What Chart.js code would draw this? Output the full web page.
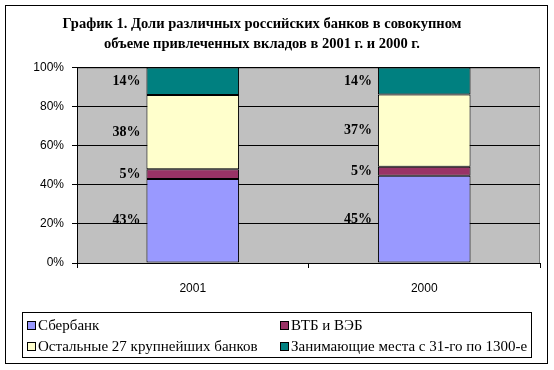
<!DOCTYPE html>
<html>
<head>
<meta charset="utf-8">
<script src="https://cdn.jsdelivr.net/npm/chart.js@4"></script>
<style>
  html, body { margin: 0; padding: 0; background: #fff; }
  #wrap { width: 554px; height: 370px; }
</style>
</head>
<body>
<div id="wrap"><canvas id="myChart" width="554" height="370"></canvas></div>
<script>
// данные с графика
var years = ["2001", "2000"];
var sberbank = [43, 44.6];
var vtbVeb = [5, 4.6];
var top27 = [38, 37];
var rest = [14, 13.8];
var yTicks = [0, 20, 40, 60, 80, 100];
var seriesNames = ["Сбербанк", "ВТБ и ВЭБ", "Остальные 27 крупнейших банков", "Занимающие места с 31-го по 1300-е"];
var titleLines = ["График 1. Доли различных российских банков в совокупном", "объеме привлеченных вкладов в 2001 г. и 2000 г."];

var colors = ["#9999FF", "#993366", "#FFFFCC", "#008080"];
var serif = "'Liberation Serif', 'Times New Roman', serif";
var sans = "'Liberation Sans', Arial, sans-serif";

// фон, рамка и серая область построения
var backdrop = {
  id: "backdrop",
  afterLayout: function(chart) {
    // заголовок в оригинале чуть левее центра
    if (chart.titleBlock) {
      chart.titleBlock.left -= 13;
      chart.titleBlock.right -= 13;
    }
  },
  beforeDraw: function(chart) {
    var ctx = chart.ctx, a = chart.chartArea;
    ctx.save();
    ctx.fillStyle = "#fff";
    ctx.fillRect(0, 0, chart.width, chart.height);
    ctx.strokeStyle = "#000";
    ctx.lineWidth = 1;
    ctx.strokeRect(5.5, 5.5, chart.width - 12, chart.height - 12);
    ctx.fillStyle = "#C0C0C0";
    ctx.fillRect(a.left, a.top, a.right - a.left, a.bottom - a.top);
    ctx.strokeStyle = "#808080";
    ctx.strokeRect(a.left + 0.5, a.top + 0.5, a.right - a.left - 1, a.bottom - a.top);
    ctx.restore();
  }
};

// подписи значений слева от столбцов
var valueLabels = {
  id: "valueLabels",
  afterDatasetsDraw: function(chart) {
    var ctx = chart.ctx;
    ctx.save();
    ctx.font = "bold 14px " + serif;
    ctx.fillStyle = "#000";
    ctx.textAlign = "right";
    ctx.textBaseline = "middle";
    chart.data.datasets.forEach(function(ds, i) {
      chart.getDatasetMeta(i).data.forEach(function(bar, j) {
        var x = bar.x - bar.width / 2 - 6;
        var y = (bar.y + bar.base) / 2;
        ctx.fillText(Math.round(ds.data[j]) + "%", x, y);
      });
    });
    ctx.restore();
  }
};

// легенда в рамке, два столбца
var boxLegend = {
  id: "boxLegend",
  afterDraw: function(chart) {
    var ctx = chart.ctx;
    var left = 22, top = 312, right = 531, bottom = 357;
    ctx.save();
    ctx.fillStyle = "#fff";
    ctx.fillRect(left, top, right - left, bottom - top);
    ctx.strokeStyle = "#000";
    ctx.lineWidth = 1;
    ctx.strokeRect(left + 0.5, top + 0.5, right - left, bottom - top);
    ctx.font = "15px " + serif;
    ctx.textBaseline = "middle";
    chart.data.datasets.forEach(function(ds, i) {
      var x = left + 5 + (i % 2) * 253;
      var y = (i < 2) ? 325 : 346;
      ctx.fillStyle = ds.backgroundColor;
      ctx.fillRect(x, y - 4, 8, 8);
      ctx.strokeStyle = "#000";
      ctx.strokeRect(x + 0.5, y - 3.5, 8, 8);
      ctx.fillStyle = "#000";
      ctx.fillText(ds.label, x + 11, y + 1);
    });
    ctx.restore();
  }
};

var seriesData = [sberbank, vtbVeb, top27, rest];

new Chart(document.getElementById("myChart"), {
  type: "bar",
  data: {
    labels: years,
    datasets: seriesData.map(function(d, i) {
      return {
        label: seriesNames[i],
        data: d,
        backgroundColor: colors[i],
        borderColor: "#000",
        borderWidth: 1,
        borderSkipped: false,
        categoryPercentage: 1,
        barPercentage: 0.4
      };
    })
  },
  options: {
    responsive: false,
    animation: false,
    layout: { padding: { left: 10, right: 14, top: 0, bottom: 60 } },
    plugins: {
      legend: { display: false },
      tooltip: { enabled: false },
      title: {
        display: true,
        text: titleLines,
        color: "#000",
        font: { family: serif, size: 14.5, weight: "bold", lineHeight: 1.4 },
        padding: { top: 14, bottom: 13 }
      }
    },
    scales: {
      x: {
        stacked: true,
        afterFit: function(s) { s.height = 47; },
        grid: { display: true, offset: true, drawOnChartArea: false, drawTicks: true, tickLength: 5, color: "#000" },
        border: { display: true, color: "#000" },
        ticks: { color: "#000", padding: 13, font: { family: sans, size: 12 } }
      },
      y: {
        stacked: true,
        min: 0,
        max: 100,
        afterFit: function(s) { s.width = 67; },
        afterBuildTicks: function(s) { s.ticks = yTicks.map(function(v) { return { value: v }; }); },
        grid: { color: "#000", drawTicks: true, tickLength: 5 },
        border: { display: true, color: "#000" },
        ticks: {
          color: "#000",
          padding: 8,
          font: { family: sans, size: 12 },
          callback: function(v) { return v + "%"; }
        }
      }
    }
  },
  plugins: [backdrop, valueLabels, boxLegend]
});
</script>
</body>
</html>
